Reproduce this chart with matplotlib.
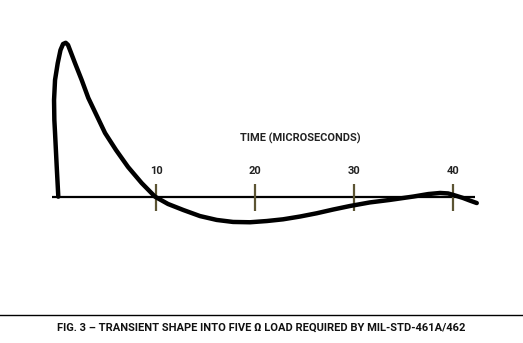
import matplotlib
matplotlib.use('Agg')
import matplotlib.pyplot as plt

# transient waveform (time in microseconds, amplitude normalised to peak)
time_us = [0.13, -0.03, -0.20, -0.27, -0.30, -0.20, 0.07, 0.35, 0.61, 0.88, 1.11,
           1.31, 1.82, 2.49, 3.16, 3.84, 4.85, 5.96, 7.17, 8.55, 9.9,
           11.21, 12.76, 14.44, 16.13, 17.78, 19.49, 21.2, 22.83, 24.55, 26.23,
           27.88, 29.6, 31.6, 33.6, 36.0, 37.5, 38.7, 39.5, 40.2, 41.0, 41.7, 42.4]
amplitude = [0.002, 0.195, 0.413, 0.497, 0.626, 0.755, 0.863, 0.948, 0.987, 0.995, 0.981,
             0.948, 0.863, 0.755, 0.639, 0.548, 0.413, 0.303, 0.194, 0.090, 0.002,
             -0.045, -0.084, -0.123, -0.148, -0.161, -0.163, -0.155, -0.144, -0.126, -0.105,
             -0.081, -0.058, -0.035, -0.019, 0.003, 0.019, 0.026, 0.023, 0.010, -0.006, -0.023, -0.039]

tick_vals = [10, 20, 30, 40]
axis_label = 'TIME (MICROSECONDS)'
caption = 'FIG. 3 \u2013 TRANSIENT SHAPE INTO FIVE \u03a9 LOAD REQUIRED BY MIL-STD-461A/462'

font = ['Roboto', 'DejaVu Sans']
tick_color = '#5c5433'

fig = plt.figure(figsize=(5.23, 3.43), dpi=100)
ax = fig.add_axes([0, 0, 1, 1])
ax.set_xlim(-5.76, 47.07)
ax.set_ylim(-0.942, 1.271)
ax.axis('off')

# time axis
ax.plot([-0.5, 42.2], [0, 0], color='black', lw=1.6, solid_capstyle='butt')
for t in tick_vals:
    ax.plot([t, t], [-0.09, 0.084], color=tick_color, lw=1.6, solid_capstyle='butt')
    ax.text(t, 0.165, str(t), ha='center', va='center', fontsize=8,
            family=font, fontweight='bold', color='#222222')
ax.text(24.6, 0.38, axis_label, ha='center', va='center', fontsize=7.9,
        family=font, fontweight='bold', color='#222222')

# waveform
ax.plot(time_us, amplitude, color='black', lw=3.2,
        solid_joinstyle='round', solid_capstyle='round')

# caption with rule above
fig.add_artist(plt.Line2D([0, 1], [0.0816, 0.0816], color='black', lw=1.0,
                          transform=fig.transFigure))
fig.text(0.5, 0.044, caption, ha='center', va='center', fontsize=8.05,
         family=font, fontweight='bold', color='#111111')

fig.savefig('out.png', dpi=100)
